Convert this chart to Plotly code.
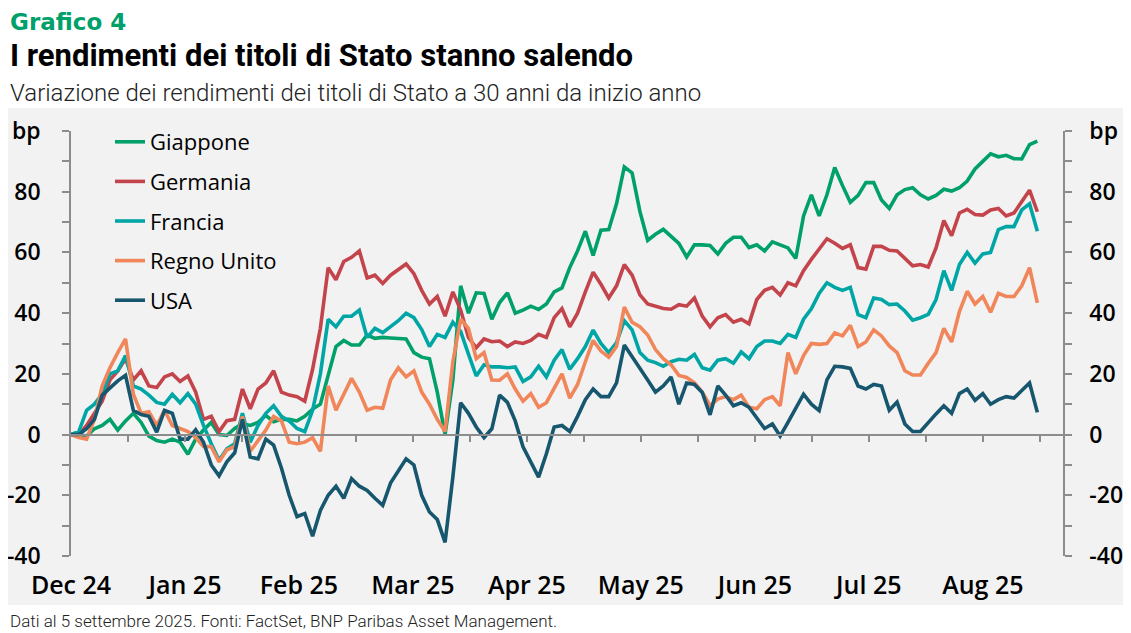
"""
Grafico 4 - variazione dei rendimenti dei titoli di Stato a 30 anni da inizio anno
"""

import pandas as pd
import plotly.graph_objects as go

# Dates sampled every two calendar days, 31 Dec 2024 -> 5 Sep 2025
dates = pd.date_range('2024-12-31', '2025-09-05', freq='2D')

# Change in 30y yields since start of year, in bp
giappone = [
    0, 0, -0.5, 1.9, 3, 5, 1.5, 4.5, 7, 4,
    -0.5, -2, -2.5, -1.5, -2.5, -6.5, -1.5, 1.5, 4, 0,
    -0.3, 2, 3.6, 3, 4, 6.3, 4.2, 5, 5, 4.5,
    6, 8.4, 10, 19, 29, 31, 29.5, 29.5, 32.8, 31.7,
    32, 31.8, 31.7, 31.5, 27, 25.5, 25, 14, 0, 18,
    49, 40, 46.7, 46.5, 38, 43.5, 46.7, 40, 41, 42.3,
    41.2, 43, 47, 48.3, 55, 60.5, 67, 59, 67.3, 67.5,
    76, 88.2, 86.2, 73.5, 64, 66, 67.6, 65.3, 63, 58.5,
    62.5, 62.5, 62.3, 59.5, 63, 65, 65, 61.6, 62.5, 60.5,
    63.5, 62.5, 61.5, 58, 72, 79, 72, 79, 88, 82,
    76.5, 78.8, 83, 83, 77.3, 74.5, 79, 80.7, 81.3, 79,
    77.6, 78.8, 80.8, 80.2, 81.3, 83.5, 87.5, 90, 92.5, 91.5,
    92, 90.9, 90.8, 95.5, 96.7,
]
germania = [
    0, 0, 3, 7, 11, 18, 21, 25, 18, 21,
    16, 15.5, 19, 20, 17.5, 19.3, 14, 5, 6, 1,
    4.6, 5, 15, 8.5, 15, 17, 21, 14, 13, 12.5,
    11, 21.5, 35, 55, 51, 57, 58.4, 60.5, 51.6, 52.5,
    49.8, 52.5, 54.2, 56.2, 53, 47.5, 43, 45.5, 39, 47,
    41, 32, 28.6, 31.5, 30.6, 30.8, 29, 30.5, 30, 31,
    33, 32, 38.5, 41.5, 35.5, 40, 47, 53.5, 49.5, 45,
    49, 56, 52.5, 46, 43, 42.3, 41.5, 41.3, 42.8, 42.3,
    45, 39, 35.5, 38.5, 39.5, 37, 38, 36.5, 44.5, 47.5,
    48.5, 46, 50, 49, 54, 57.7, 61, 64.5, 63, 61.3,
    62.5, 55, 54.5, 62, 62, 60.7, 60.5, 58, 55.6, 56,
    55.2, 61.5, 70.5, 65.5, 73, 74.2, 72.5, 72.3, 74, 74.5,
    72, 73, 77, 80.5, 73.4,
]
francia = [
    0, 1, 8, 10, 13.3, 20, 21, 26, 16, 15,
    13, 10.6, 10, 13.3, 10.5, 13.5, 10, 3, -3, -8.5,
    -4.7, -3, 7, -2.5, 3, 7, 9.5, 6, 4.5, 2,
    1, 8, 20, 38, 35.5, 39, 39, 41, 32, 35,
    33.6, 35.5, 37.5, 40, 38.5, 34.6, 29, 33, 32, 37,
    34, 26.5, 19.3, 23, 22.3, 22.3, 22, 22.3, 17.5, 19,
    22.5, 19, 24.5, 28, 21.5, 25, 29, 34.4, 30, 27,
    30.3, 37.5, 34.5, 27, 24.5, 23.7, 22.5, 24, 24.8, 24.5,
    26.4, 22, 21.2, 24.5, 25, 23.5, 27.2, 25, 29, 30.8,
    30.8, 30, 33, 32, 38, 41.4, 46.5, 50, 48.5, 47.5,
    48.5, 39.5, 38.5, 45, 44.5, 42.8, 43, 40.7, 37.7, 38.5,
    39.6, 44.5, 54, 47.5, 56, 60, 56.5, 59.5, 60, 67.5,
    68.5, 68.5, 74, 76, 67,
]
regno_unito = [
    0, -1, -1.5, 5, 16, 22, 27, 31.5, 13.3, 7,
    7.5, 3, 8, 3, 2, 1, -1, -3.9, -4, -9,
    -5, -4, 6, -5.5, -2, 1.5, 6, 4.5, -2.5, -3,
    -2.5, -1, -5.5, 16, 8, 13, 18.5, 14, 8, 9,
    8.7, 18, 22, 19, 21, 14, 10, 5, 1, 24,
    38, 35, 25, 27, 18, 17.9, 20, 15, 11, 13.5,
    9, 10.5, 15, 20, 12, 16.5, 24, 31, 27.5, 25.5,
    29, 42, 37, 35.5, 32.8, 28, 25, 23, 19.5, 18.8,
    17, 14, 9.5, 11.7, 12.5, 11.5, 13, 9, 8.5, 11.5,
    12.5, 9.5, 27, 20, 26, 30, 29.7, 30, 33.5, 32.5,
    36, 29, 30.5, 34.5, 32.5, 29.2, 27, 21, 19.6, 19.6,
    23.5, 27, 35, 30.5, 40.5, 47.2, 43, 45.5, 40.3, 46.5,
    45.5, 45.5, 49, 55, 43.4,
]
usa = [
    0, 0, 1.9, 5, 13, 15.5, 17.7, 19.5, 8, 6.6,
    6, 0.8, 8, 7, -1.5, -1.5, 1.6, -2.5, -10, -13.6,
    -9, -6, 5, -7.4, -8, -1.5, -3.5, -11, -20, -27,
    -26, -33.5, -25, -20, -17, -21, -14.5, -17, -18.4, -21,
    -23.3, -16, -12.1, -8, -10, -20, -25.5, -28, -35.5, -14,
    10.5, 7, 2.5, -1, 1.9, 13, 10.6, 4.5, -4, -9,
    -14, -6.3, 2.5, 3, 1, 6, 11.5, 15, 12.5, 12.5,
    17, 29.5, 25.8, 22, 18, 14, 16, 19, 10, 17,
    16.5, 13.9, 6.5, 16, 13, 9.5, 10.5, 9, 5.3, 2,
    3.5, -0.5, 4, 8.4, 13.3, 10, 7.9, 18, 22.5, 22.3,
    21.8, 16, 15, 16.5, 16, 8, 10.7, 3.5, 1, 1,
    4, 6.8, 9.5, 7, 13.5, 15, 11.3, 13.5, 10, 11.5,
    12.5, 12, 14.5, 17, 7.3,
]

series_names = ['Giappone', 'Germania', 'Francia', 'Regno Unito', 'USA']
series_values = [giappone, germania, francia, regno_unito, usa]

# Category labels of the x axis (one every 22 sessions in the source chart)
month_labels = ['Dec 24', 'Jan 25', 'Feb 25', 'Mar 25', 'Apr 25',
                'May 25', 'Jun 25', 'Jul 25', 'Aug 25']
month_label_dates = ['2024-12-31', '2025-01-29 06:00', '2025-02-27 12:00',
                     '2025-03-28 18:00', '2025-04-27', '2025-05-26 06:00',
                     '2025-06-24 12:00', '2025-07-23 18:00', '2025-08-22']
# Small tick marks on the zero line (every 11 sessions)
zero_tick_dates = ['2025-01-14 15:00', '2025-01-29 06:00', '2025-02-12 21:00',
                   '2025-02-27 12:00', '2025-03-14 03:00', '2025-03-28 18:00',
                   '2025-04-12 09:00', '2025-04-27', '2025-05-11 15:00',
                   '2025-05-26 06:00', '2025-06-09 21:00', '2025-06-24 12:00',
                   '2025-07-09 03:00', '2025-07-23 18:00', '2025-08-07 09:00',
                   '2025-08-22', '2025-09-05 15:00']

y_tickvals = [-40, -20, 0, 20, 40, 60, 80, 100]
y_ticktext = ['-40', '-20', '0', '20', '40', '60', '80', 'bp']
y_minor = [-30, -10, 10, 30, 50, 70, 90]

colors = ['#00a06b', '#c4444c', '#00a6a6', '#f08659', '#16566e']

FONT = 'Open Sans, Noto Sans, sans-serif'
TITLE_FONT = 'Roboto, Open Sans, sans-serif'
AXIS_GREY = '#8c8c8c'

# the page body adds an 8 px margin, so the figure is 8 px smaller
OFF = 8
W, H = 1131 - OFF, 633 - OFF
# plot area in page pixels
L, R, T, B = 71, 1063, 131, 556


def px_x(x):
    return (x - L) / (R - L)


def px_y(y):
    return (B - y) / (B - T)


def create_chart():
    fig = go.Figure()

    for idx, (name, vals) in enumerate(zip(series_names, series_values)):
        fig.add_trace(go.Scatter(
            x=dates,
            y=vals,
            name=name,
            mode='lines',
            legendgroup=name,
            line=dict(color=colors[idx], width=3.6),
            hovertemplate='%{x|%d %b %Y}<br>' + name + ': %{y:.1f} bp<extra></extra>'
        ))

    # invisible helper trace so the zero-line axis and the right axis are drawn
    fig.add_trace(go.Scatter(
        x=[dates[0]], y=[0], xaxis='x2', yaxis='y2',
        mode='markers', marker=dict(opacity=0),
        showlegend=False, hoverinfo='skip'
    ))

    x_range = ['2024-12-31', '2025-09-11 14:00']
    x_font = dict(family=FONT, size=25, color='black', weight=600)
    y_font = dict(family=FONT, size=23, color='black', weight=600)
    tick_style = dict(ticks='outside', ticklen=7, tickwidth=1.5, tickcolor=AXIS_GREY)

    fig.update_layout(
        width=W, height=H,
        margin=dict(l=L - OFF, r=W - (R - OFF), t=T - OFF, b=H - (B - OFF), pad=0),
        paper_bgcolor='white',
        plot_bgcolor='rgba(0,0,0,0)',
        font=dict(family=FONT, size=20, color='black'),
        showlegend=True,
        hovermode='closest',
        legend=dict(
            x=px_x(110), y=px_y(121), xanchor='left', yanchor='top',
            bgcolor='rgba(0,0,0,0)',
            font=dict(family=FONT, size=22, color='black'),
            tracegroupgap=8,
            itemwidth=30,
        ),
        xaxis=dict(
            type='date', range=x_range, automargin=False,
            showgrid=False, zeroline=False, showline=False,
            ticks='', tickvals=month_label_dates, ticktext=month_labels,
            tickfont=x_font, ticklabelstandoff=12,
        ),
        xaxis2=dict(
            type='date', range=x_range, overlaying='x', automargin=False,
            anchor='free', position=40 / 140,
            showgrid=False, zeroline=False,
            showline=True, linecolor=AXIS_GREY, linewidth=1.5,
            tickvals=zero_tick_dates, showticklabels=False,
            **tick_style,
        ),
        yaxis=dict(
            range=[-40, 100], automargin=False,
            showgrid=False, zeroline=False,
            showline=True, linecolor=AXIS_GREY, linewidth=1.5,
            tickvals=y_tickvals, ticktext=y_ticktext,
            tickfont=y_font, ticklabelstandoff=17,
            minor=dict(tickvals=y_minor, **tick_style),
            **tick_style,
        ),
        yaxis2=dict(
            range=[-40, 100], overlaying='y', side='right', anchor='x',
            automargin=False, showgrid=False, zeroline=False,
            showline=True, linecolor=AXIS_GREY, linewidth=1.5,
            tickvals=y_tickvals, ticktext=y_ticktext,
            tickfont=y_font, ticklabelstandoff=13,
            minor=dict(tickvals=y_minor, **tick_style),
            **tick_style,
        ),
    )

    # light grey panel behind the chart
    fig.add_shape(
        type='rect', xref='paper', yref='paper', layer='below',
        x0=px_x(OFF), x1=px_x(1129), y0=px_y(605), y1=px_y(108),
        fillcolor='#f2f2f2', line=dict(width=0)
    )

    # (text, top edge in page px, font)
    texts = [
        ('Grafico 4', OFF + 0.5, dict(family='DejaVu Sans, ' + TITLE_FONT, size=23,
                                      color='#00a06b', weight=700)),
        ('I rendimenti dei titoli di Stato stanno salendo', 36,
         dict(family=TITLE_FONT, size=31, color='black', weight=700)),
        ('Variazione dei rendimenti dei titoli di Stato a 30 anni da inizio anno', 78,
         dict(family=TITLE_FONT, size=24, color='#222222', weight=300)),
        ('Dati al 5 settembre 2025. Fonti: FactSet, BNP Paribas Asset Management.', 610,
         dict(family=TITLE_FONT, size=17, color='#222222', weight=300)),
    ]
    for text, ytop, fnt in texts:
        fig.add_annotation(
            text=text, xref='paper', yref='paper',
            x=px_x(OFF + 1), y=px_y(ytop), xanchor='left', yanchor='top',
            showarrow=False, font=fnt, borderpad=0
        )

    return fig


def main():
    fig = create_chart()
    fig.write_html('out.html')


if __name__ == '__main__':
    main()
